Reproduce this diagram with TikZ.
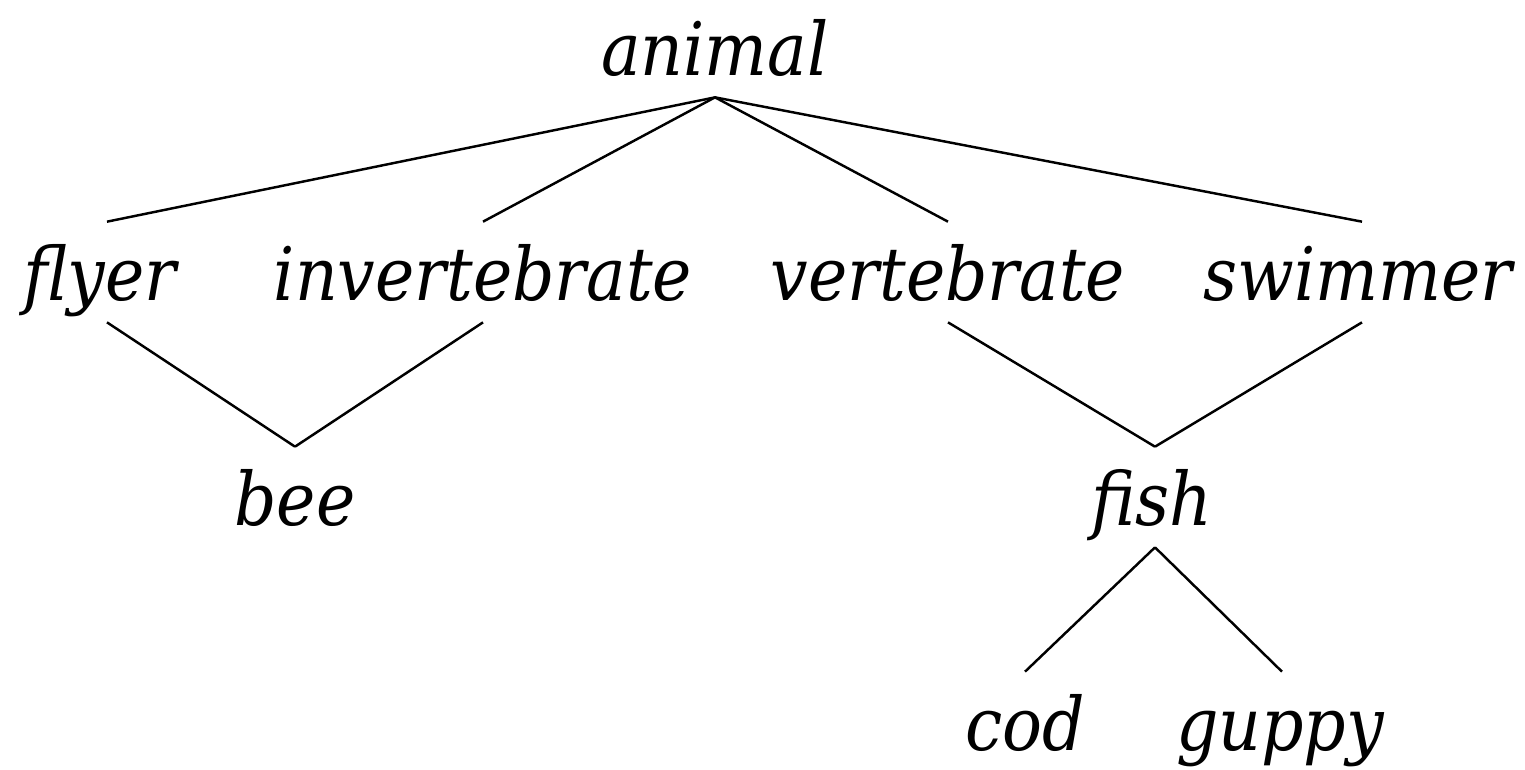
\documentclass[tikz,border=0pt]{standalone}
\usepackage{fontspec}
\newfontfamily\treefont{DejaVu Serif Condensed}
\begin{document}
\begin{tikzpicture}[x=0.02cm,y=-0.02cm,
  word/.style={font=\treefont\fontsize{42}{50}\selectfont\itshape, inner sep=0pt, anchor=base,
    text height=1.56cm, text depth=0.44cm},
  edge/.style={line width=1.4pt}]
\useasboundingbox (0,0) rectangle (1525,769);
\node[word] (animal) at (715,75) {animal};
\node[word] (flyer) at (100,300) {flyer};
\node[word] (invert) at (483,300) {invertebrate};
\node[word] (vert) at (948,300) {vertebrate};
\node[word] (swim) at (1358,300) {swimmer};
\node[word] (bee) at (295,525) {bee};
\node[word] (fish) at (1152,525) {fish};
\node[word] (cod) at (1025,750) {cod};
\node[word] (guppy) at (1280,750) {guppy};
\draw[edge] (animal.south) -- (flyer.north -| 107,0);
\draw[edge] (animal.south) -- (invert.north);
\draw[edge] (animal.south) -- (vert.north);
\draw[edge] (animal.south) -- (swim.north -| 1362,0);
\draw[edge] (flyer.south -| 107,0) -- (bee.north);
\draw[edge] (invert.south) -- (bee.north);
\draw[edge] (vert.south) -- (fish.north -| 1155,0);
\draw[edge] (swim.south -| 1362,0) -- (fish.north -| 1155,0);
\draw[edge] (fish.south -| 1155,0) -- (cod.north);
\draw[edge] (fish.south -| 1155,0) -- (guppy.north -| 1282,0);
\end{tikzpicture}
\end{document}
